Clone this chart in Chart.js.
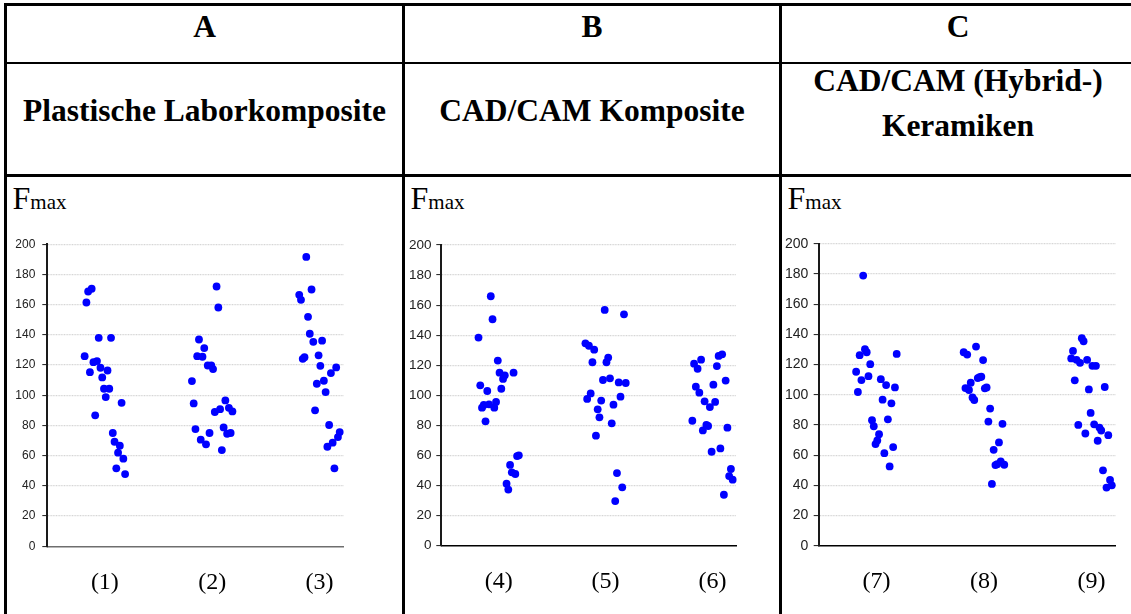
<!DOCTYPE html>
<html>
<head>
<meta charset="utf-8">
<script src="https://cdn.jsdelivr.net/npm/chart.js@4"></script>
<style>
html,body{margin:0;padding:0;background:#fff;}
body{width:1131px;height:614px;position:relative;overflow:hidden;font-family:"Liberation Serif","Times New Roman",serif;color:#000;}
.ln{position:absolute;background:#000;}
.hd{position:absolute;text-align:center;font-weight:bold;font-size:31.5px;line-height:31px;white-space:nowrap;}
.fm{position:absolute;font-size:32px;line-height:31px;white-space:nowrap;}
.fm span{font-size:21px;}
.box{position:absolute;}
</style>
</head>
<body>
<script>
// ---------- data ----------
const panelLetters = ["A", "B", "C"];
const panelTitles = [["Plastische Laborkomposite"], ["CAD/CAM Komposite"], ["CAD/CAM (Hybrid-)", "Keramiken"]];
const axisTitleMain = "F";
const axisTitleSub = "max";
const groupLabels = ["(1)", "(2)", "(3)", "(4)", "(5)", "(6)", "(7)", "(8)", "(9)"];
const yTicksMin = 0, yTicksMax = 200, yTicksStep = 20;

// Fmax values per group, in left-to-right order of the jittered points
const g1 = [125.9,161.4,168.7,115.3,170.5,121.9,86.7,122.6,138.0,118.2,111.8,104.3,98.8,116.4,104.3,138.0,75.0,69.2,51.6,62.0,66.6,95.0,58.0,47.8];
const g2 = [109.4,94.6,77.6,125.9,136.9,70.6,125.5,131.2,67.5,119.7,75.0,119.7,117.3,88.9,172.0,158.1,90.8,63.7,78.7,96.6,74.5,91.7,75.0,89.3];
const g3 = [166.5,163.2,124.1,125.2,191.6,151.9,140.7,170.0,135.4,90.0,107.6,126.4,119.5,136.1,109.6,102.1,65.9,80.3,114.7,68.6,51.6,118.4,72.3,75.6];
const g4 = [138.4,106.7,91.8,93.6,82.7,102.9,94.0,165.9,150.6,91.8,95.6,123.1,115.1,104.4,110.9,113.3,41.2,37.3,53.7,48.8,115.1,47.7,59.6,60.1];
const g5 = [134.6,97.6,133.0,101.3,122.0,130.4,73.2,90.7,85.4,96.5,110.2,156.8,122.0,125.1,111.3,81.4,93.8,29.7,48.3,108.6,99.1,38.8,153.9,108.2];
const g6 = [83.1,121.1,105.8,117.7,101.8,123.7,76.7,96.0,80.3,79.6,92.2,62.5,107.1,95.6,119.5,126.2,64.7,127.3,33.9,109.8,78.5,46.3,51.0,43.9];
const g7 = [115.2,101.8,126.2,109.7,178.9,130.1,128.1,112.3,120.2,83.1,79.1,67.3,69.7,73.8,110.3,96.7,61.3,106.4,83.7,52.5,94.3,65.3,104.8,127.0];
const g8 = [128.1,104.4,126.6,103.1,107.9,98.2,96.5,131.9,111.0,111.6,111.9,122.9,104.2,104.8,82.2,90.8,40.9,63.5,53.4,54.0,68.4,55.8,80.7,53.6];
const g9 = [124.0,129.0,109.5,123.1,80.0,121.1,137.4,135.4,74.3,123.1,103.5,87.9,119.1,80.4,119.1,69.5,78.2,76.3,49.9,105.1,38.5,73.2,43.5,40.0];
const panelGroups = [[g1, g2, g3], [g4, g5, g6], [g7, g8, g9]];

// ---------- layout (not data) ----------
const geom = [
  {cell: 7,   x0: 47.3,  x1: 349.3, y0: 244,   y1: 546.3, tickFont: 12,   tickPad: 7, xBorder: "#6e6e6e"},
  {cell: 405, x0: 441.3, x1: 742.7, y0: 245,   y1: 545.7, tickFont: 13.5, tickPad: 4.7, xBorder: "#000"},
  {cell: 782, x0: 818.7, x1: 1122,  y0: 242.3, y1: 545.7, tickFont: 14,   tickPad: 5.3, xBorder: "#000"}
];
const colEdges = [[7, 402], [405, 779], [782, 1134]];
const X_MAX = 2.76, J_START = 0.348, J_STEP = 0.0164;

function el(cls, css, html) {
  const d = document.createElement("div");
  d.className = cls;
  Object.assign(d.style, css);
  if (html !== undefined) d.innerHTML = html;
  document.body.appendChild(d);
  return d;
}

// table lines
el("ln", {left: "4px", top: "3px", width: "1127px", height: "3px"});
el("ln", {left: "4px", top: "3px", width: "3px", height: "611px"});
el("ln", {left: "4px", top: "61.5px", width: "1127px", height: "2.5px"});
el("ln", {left: "4px", top: "174px", width: "1127px", height: "3px"});
el("ln", {left: "401.5px", top: "3px", width: "3.5px", height: "611px"});
el("ln", {left: "778.5px", top: "3px", width: "3.5px", height: "611px"});

panelLetters.forEach((letter, p) => {
  const [a, b] = colEdges[p];
  el("hd", {left: a + "px", width: (b - a) + "px", top: "11px"}, letter);
  const t = panelTitles[p];
  if (t.length === 1) {
    el("hd", {left: a + "px", width: (b - a) + "px", top: "95px"}, t[0]);
  } else {
    el("hd", {left: a + "px", width: (b - a) + "px", top: "57.5px", lineHeight: "45px"}, t.join("<br>"));
  }
  const g = geom[p];
  el("fm", {left: (g.cell + 5.5) + "px", top: "182.5px"}, axisTitleMain + "<span>" + axisTitleSub + "</span>");
});

// charts
panelGroups.forEach((groups, p) => {
  const g = geom[p];
  const top = 230;
  const height = 384;
  const width = Math.ceil(g.x1 + 6 - g.cell);
  const padTop = g.y0 - top;
  const plotH = g.y1 - g.y0;
  const xAxisH = height - padTop - plotH;
  const padRight = width - (g.x1 - g.cell);
  const yAxisW = g.x0 - g.cell;

  const box = el("box", {left: g.cell + "px", top: top + "px", width: width + "px", height: height + "px"});
  const cv = document.createElement("canvas");
  box.appendChild(cv);

  const datasets = groups.map((vals, gi) => ({
    data: vals.map((v, i) => ({x: gi + J_START + i * J_STEP, y: v})),
    backgroundColor: "#0000ff",
    borderColor: "#0000ff",
    pointBackgroundColor: "#0000ff",
    pointBorderWidth: 0,
    pointRadius: 3.9,
    showLine: false,
    clip: false
  }));
  const centers = groups.map((vals, gi) => gi + J_START + (vals.length - 1) / 2 * J_STEP);
  const labels = groupLabels.slice(p * 3, p * 3 + 3);

  new Chart(cv, {
    type: "scatter",
    data: {datasets},
    options: {
      responsive: true,
      maintainAspectRatio: false,
      animation: false,
      devicePixelRatio: 1,
      events: [],
      layout: {padding: {top: padTop, right: padRight, left: 0, bottom: 0}, autoPadding: false},
      plugins: {legend: {display: false}, tooltip: {enabled: false}},
      scales: {
        x: {
          type: "linear", min: 0, max: X_MAX,
          grid: {display: false, drawTicks: false},
          border: {display: true, color: g.xBorder, width: 1.5},
          afterBuildTicks: s => { s.ticks = centers.map(v => ({value: v})); },
          afterFit: s => { s.height = xAxisH; },
          ticks: {
            autoSkip: false, maxRotation: 0, padding: 22,
            color: "#000",
            font: {family: "'Liberation Serif', 'Times New Roman', serif", size: 24},
            callback: (v, i) => labels[i]
          }
        },
        y: {
          type: "linear", min: yTicksMin, max: yTicksMax,
          afterFit: s => { s.width = yAxisW; },
          border: {display: true, color: "#1a1a1a", width: 2, dash: [1, 0.6]},
          grid: {
            color: c => (c.tick && c.tick.value === 0) ? "rgba(0,0,0,0)" : "#d6d6d6",
            lineWidth: 1.2, drawTicks: true, tickLength: 5, tickColor: "#1a1a1a", tickWidth: 1
          },
          ticks: {
            stepSize: yTicksStep, padding: g.tickPad, color: "#222",
            font: {family: "'Liberation Sans', Arial, sans-serif", size: g.tickFont}
          }
        }
      }
    }
  });
});
</script>
</body>
</html>
